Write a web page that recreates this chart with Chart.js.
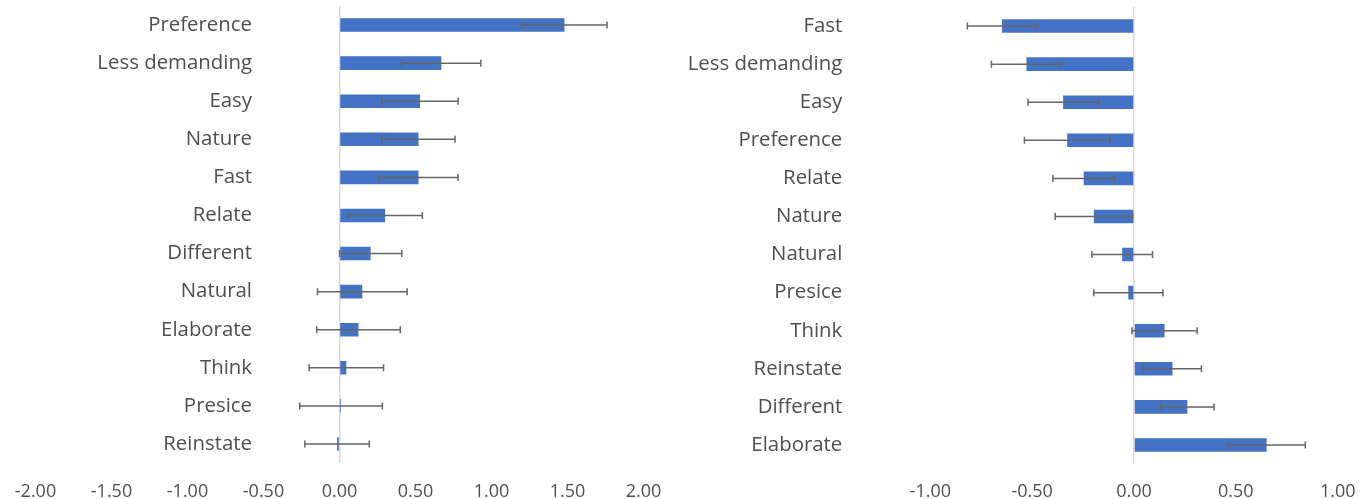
<!DOCTYPE html>
<html>
<head>
<meta charset="utf-8">
<script src="https://cdn.jsdelivr.net/npm/chart.js@4/dist/chart.umd.min.js"></script>
<style>
  html, body { margin: 0; padding: 0; background: #ffffff; }
  body { width: 1372px; height: 499px; position: relative; overflow: hidden; }
  canvas { position: absolute; top: 0; }
  #leftChart { left: 0; }
  #rightChart { left: 686px; }
</style>
</head>
<body>
<canvas id="leftChart" width="686" height="499"></canvas>
<canvas id="rightChart" width="686" height="499"></canvas>
<script>
// Left panel: mean scores with error half-widths, top to bottom
const leftLabels = ['Preference', 'Less demanding', 'Easy', 'Nature', 'Fast', 'Relate',
                    'Different', 'Natural', 'Elaborate', 'Think', 'Presice', 'Reinstate'];
const leftMeans  = [1.48, 0.67, 0.53, 0.52, 0.52, 0.30, 0.205, 0.15, 0.125, 0.045, 0.01, -0.016];
const leftErrors = [0.28, 0.26, 0.25, 0.24, 0.26, 0.245, 0.205, 0.295, 0.275, 0.245, 0.272, 0.212];
const leftTicks  = [-2.0, -1.5, -1.0, -0.5, 0.0, 0.5, 1.0, 1.5, 2.0];

// Right panel: mean scores with error half-widths, top to bottom
const rightLabels = ['Fast', 'Less demanding', 'Easy', 'Preference', 'Relate', 'Nature',
                     'Natural', 'Presice', 'Think', 'Reinstate', 'Different', 'Elaborate'];
const rightMeans  = [-0.648, -0.528, -0.348, -0.328, -0.247, -0.197, -0.058, -0.028, 0.150, 0.189, 0.262, 0.651];
const rightErrors = [0.170, 0.172, 0.172, 0.210, 0.151, 0.190, 0.149, 0.170, 0.160, 0.142, 0.131, 0.190];
const rightTicks  = [-1.0, -0.5, 0.0, 0.5, 1.0];

const BAR_BLUE = '#4472C4';
const TEXT_GREY = '#4f4f4f';
const AXIS_GREY = '#d9d9d9';
const FONT = "'Open Sans', 'Noto Sans', sans-serif";

// Horizontal error bars with end caps, drawn on top of the bars
const errorBars = {
  id: 'errorBars',
  afterDatasetsDraw(chart, args, opts) {
    const ctx = chart.ctx;
    const xs = chart.scales.x;
    const ds = chart.data.datasets[0];
    const meta = chart.getDatasetMeta(0);
    ctx.save();
    ctx.strokeStyle = opts.color;
    ctx.lineWidth = opts.width;
    meta.data.forEach((bar, i) => {
      const m = ds.data[i];
      const e = ds.errors[i];
      const x0 = xs.getPixelForValue(m - e);
      const x1 = xs.getPixelForValue(m + e);
      const y = bar.y;
      ctx.beginPath();
      ctx.moveTo(x0, y); ctx.lineTo(x1, y);
      ctx.moveTo(x0, y - opts.cap); ctx.lineTo(x0, y + opts.cap);
      ctx.moveTo(x1, y - opts.cap); ctx.lineTo(x1, y + opts.cap);
      ctx.stroke();
    });
    ctx.restore();
  }
};

// Lets the category labels reach into the plot area: after layout the
// category axis box is widened so its labels end at opts.right
const labelEdge = {
  id: 'labelEdge',
  afterLayout(chart, args, opts) {
    if (opts.right == null) return;
    const y = chart.scales.y;
    y.left = 0;
    y.right = opts.right;
    y.width = opts.right;
  }
};

// layout.axisWidth: room kept left of the plot for the category axis
// layout.yPad: gap between the axis box edge and the label ends
function makePanel(canvasId, labels, means, errors, ticks, layout) {
  const lo = ticks[0], hi = ticks[ticks.length - 1];
  return new Chart(document.getElementById(canvasId), {
    type: 'bar',
    data: {
      labels: labels,
      datasets: [{
        data: means,
        errors: errors,
        backgroundColor: BAR_BLUE,
        borderWidth: 0,
        categoryPercentage: 1.0,
        barPercentage: 0.355
      }]
    },
    options: {
      indexAxis: 'y',
      responsive: false,
      animation: false,
      devicePixelRatio: 1,
      layout: { padding: layout.padding },
      plugins: {
        legend: { display: false },
        tooltip: { enabled: false },
        errorBars: { color: '#666666', width: 1.5, cap: 3.5 },
        labelEdge: { right: layout.labelRight }
      },
      scales: {
        x: {
          type: 'linear',
          min: lo,
          max: hi,
          afterBuildTicks: (scale) => { scale.ticks = ticks.map(v => ({ value: v })); },
          afterFit: (scale) => {
            scale.paddingLeft = 0;
            scale.paddingRight = 0;
            scale.height = layout.xHeight;
          },
          grid: {
            display: true,
            drawTicks: false,
            lineWidth: 1.5,
            color: (c) => (c.tick && c.tick.value === 0 ? AXIS_GREY : 'rgba(0,0,0,0)')
          },
          border: { display: false },
          ticks: {
            padding: layout.xPad,
            color: TEXT_GREY,
            font: { family: FONT, size: 18, lineHeight: 1 },
            callback: (v) => Number(v).toFixed(2)
          }
        },
        y: {
          type: 'category',
          position: 'left',
          offset: true,
          afterFit: (scale) => {
            scale.width = layout.axisWidth;
            scale.paddingTop = 0;
            scale.paddingBottom = 0;
          },
          grid: { display: false, drawTicks: false },
          border: { display: false },
          ticks: {
            padding: layout.yPad,
            color: TEXT_GREY,
            font: { family: FONT, size: 20.4 }
          }
        }
      }
    },
    plugins: [errorBars, labelEdge]
  });
}

makePanel('leftChart', leftLabels, leftMeans, leftErrors, leftTicks, {
  padding: { left: 0, right: 42.5, top: 6, bottom: 0 },
  axisWidth: 35.5,
  labelRight: 252,
  xHeight: 36,
  xPad: 20,
  yPad: 0
});

makePanel('rightChart', rightLabels, rightMeans, rightErrors, rightTicks, {
  padding: { left: 0, right: 34.3, top: 7, bottom: 0 },
  axisWidth: 244.3,
  labelRight: null,
  xHeight: 35,
  xPad: 19,
  yPad: 88
});
</script>
</body>
</html>
